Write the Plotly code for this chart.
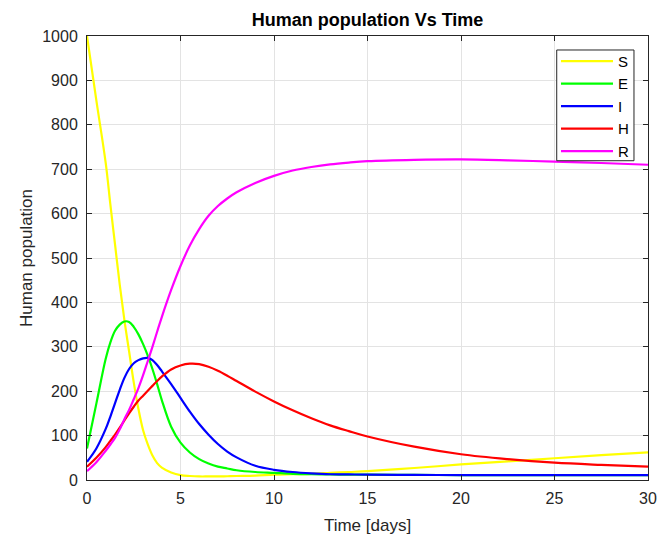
import plotly.graph_objects as go

# time grid (days) shared by all compartments
t = [0, 0.5, 1, 1.25, 1.5, 1.75, 2, 2.25, 2.5, 2.75, 3, 3.25, 3.5, 3.75, 4, 4.5,
     5, 5.5, 6, 6.5, 7, 7.5, 8, 9, 10, 11, 12, 13, 14, 15, 17.5, 20, 22.5, 25, 27.5, 30]

S = [1000, 855, 714, 620, 530, 440, 360, 290, 220, 160, 112, 80, 55, 38, 28, 17,
     11, 9, 8, 8, 8, 8.5, 9, 10, 12, 13, 14, 16, 18, 20, 27, 35, 42, 49, 56, 62]
E = [71, 172, 273, 310, 336, 350, 357, 356, 345, 328, 306, 280, 250, 216, 180, 120,
     84, 62, 47, 37, 30, 26, 22, 18, 16, 14, 13, 12.5, 12, 12, 11.5, 11, 11, 11, 11, 11]
I = [41, 71, 115, 143, 173, 203, 230, 250, 263, 270, 274, 275, 270, 259, 245, 216,
     185, 154, 126, 102, 81, 64, 51, 32, 23, 18, 15, 13, 12.5, 12, 11.5, 11, 11, 11, 11, 11]
H = [30, 50, 74, 88, 102, 118, 134, 150, 165, 179, 190, 201, 212, 223, 233, 249,
     258, 262, 261, 255, 246, 235, 223, 199, 177, 157, 139, 123, 110, 98, 75, 58, 47, 39, 34, 30]
R = [20, 40, 66, 80, 95, 114, 137, 158, 182, 207, 236, 268, 300, 334, 367, 428,
     482, 528, 565, 595, 617, 634, 648, 669, 685, 697, 705, 711, 715, 718, 721, 722, 720, 717, 714, 710]

series = [("S", S, "#ffff00"), ("E", E, "#00ff00"), ("I", I, "#0000ff"),
          ("H", H, "#ff0000"), ("R", R, "#ff00ff")]

fig = go.Figure()
for name, vals, col in series:
    fig.add_scatter(x=t, y=vals, name=name, mode="lines",
                    line=dict(color=col, width=2.2, shape="spline", smoothing=1.0))

axis_common = dict(showline=True, linecolor="#262626", linewidth=1, mirror="ticks",
                   ticks="inside", ticklen=5, tickcolor="#262626", automargin=False,
                   showgrid=True, gridcolor="#e3e3e3", gridwidth=1, zeroline=False,
                   tickfont=dict(size=16, color="#262626"))

fig.update_xaxes(range=[0, 30], dtick=5, ticklabelstandoff=4,
                 title=dict(text="Time [days]", font=dict(size=17, color="#262626"), standoff=12),
                 **axis_common)
fig.update_yaxes(range=[0, 1000], dtick=100, ticklabelstandoff=5,
                 title=dict(text="Human population", font=dict(size=17, color="#262626"), standoff=5),
                 **axis_common)

# legend frame drawn as a shape so it hugs the entries like the MATLAB box
fig.add_shape(type="rect", xref="paper", yref="paper",
              x0=0.8373, x1=0.975, y0=0.7191, y1=0.9685,
              line=dict(color="#262626", width=1), fillcolor="white", layer="above")

# page body adds an 8px offset, so the figure is 8px smaller than the window
fig.update_layout(
    width=664, height=528,
    margin=dict(l=79, r=24, t=28, b=56),
    paper_bgcolor="white", plot_bgcolor="white",
    font=dict(family="Liberation Sans, Arial, sans-serif", color="#262626"),
    title=dict(text="<b>Human population Vs Time</b>", x=(79 + 640) / 2 / 664, xanchor="center",
               y=1 - 12 / 528, yanchor="middle", font=dict(size=18, color="black")),
    legend=dict(x=0.836, y=0.980, xanchor="left", yanchor="top",
                bgcolor="rgba(0,0,0,0)", borderwidth=0,
                font=dict(size=15, color="black"), itemwidth=52, tracegroupgap=0),
)

fig.write_html("out.html")
